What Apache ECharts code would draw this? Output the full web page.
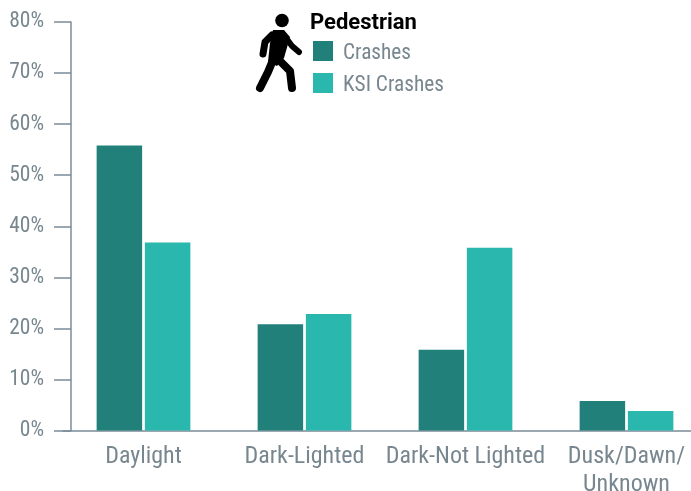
<!DOCTYPE html>
<html>
<head>
<meta charset="utf-8">
<style>html,body{margin:0;padding:0;background:#fff}#chart{width:691px;height:491px}</style>
<script src="https://cdn.jsdelivr.net/npm/echarts@6/dist/echarts.min.js"></script>
</head>
<body>
<div id="chart"></div>
<script>
const categories = ['Daylight', 'Dark-Lighted', 'Dark-Not Lighted', 'Dusk/Dawn/\nUnknown'];
const crashes = [55.8, 20.8, 15.8, 5.8];
const ksiCrashes = [36.8, 22.8, 35.8, 3.8];
const yTicks = [0, 10, 20, 30, 40, 50, 60, 70, 80];

const font = '"Roboto Condensed", Roboto, sans-serif';
const grey = '#78878f';
const axisGrey = '#7b8c99';

// walking figure next to the legend
const limb = function(points, width){
    return {
        type: 'polyline',
        shape: {points: points},
        style: {stroke: '#000', lineWidth: width, fill: null, lineCap: 'round', lineJoin: 'round'}
    };
};

const chart = echarts.init(document.getElementById('chart'));
chart.setOption({
    animation: false,
    title: {
        text: 'Pedestrian',
        left: 310,
        top: 12,
        textStyle: {fontFamily: 'Roboto', fontSize: 22, fontWeight: 'bold', color: '#000'},
        padding: 0
    },
    legend: {
        orient: 'vertical',
        left: 313,
        top: 41,
        padding: 0,
        itemWidth: 20,
        itemHeight: 20,
        itemGap: 9,
        icon: 'rect',
        formatter: '{a|{name}}',
        textStyle: {
            padding: [0, 0, 0, 5],
            rich: {a: {fontFamily: font, fontSize: 21.3, color: grey, padding: [5, 0, 0, 0]}}
        },
        data: ['Crashes', 'KSI Crashes']
    },
    grid: {left: 63, top: 22, width: 644, height: 408.5, outerBoundsMode: 'none'},
    xAxis: {
        type: 'category',
        data: categories,
        axisTick: {show: false},
        axisLine: {lineStyle: {color: axisGrey, width: 1.5}},
        axisLabel: {
            interval: 0,
            margin: 12,
            fontFamily: font,
            fontSize: 24,
            lineHeight: 28,
            color: grey,
            verticalAlign: 'top'
        }
    },
    yAxis: {
        type: 'value',
        min: yTicks[0],
        max: yTicks[yTicks.length - 1],
        interval: 10,
        offset: -8,
        splitLine: {show: false},
        axisLine: {show: true, lineStyle: {color: axisGrey, width: 1.5}},
        axisTick: {show: true, length: 17, lineStyle: {color: axisGrey, width: 1.5}},
        axisLabel: {
            margin: 27,
            fontFamily: font,
            fontSize: 21.5,
            color: grey,
            formatter: '{value}%'
        }
    },
    series: [
        {name: 'Crashes', type: 'bar', data: crashes, barWidth: 45.5, barGap: '6%', itemStyle: {color: '#22807b'}},
        {name: 'KSI Crashes', type: 'bar', data: ksiCrashes, barWidth: 45.5, itemStyle: {color: '#2ab7ae'}}
    ],
    graphic: [
        {type: 'circle', shape: {cx: 282, cy: 20.5, r: 6.8}, style: {fill: '#000'}},
        {type: 'polygon', shape: {points: [[273, 30], [284, 30], [290, 37], [284, 58], [277, 66], [268, 62], [270, 43]]}, style: {fill: '#000'}},
        limb([[272, 35], [265, 42], [263, 54]], 7),
        limb([[286, 38], [292, 46], [299, 52]], 6),
        limb([[273, 60], [268, 72], [260, 88]], 8),
        limb([[279, 60], [290, 71], [292, 88]], 8)
    ]
});
</script>
</body>
</html>
